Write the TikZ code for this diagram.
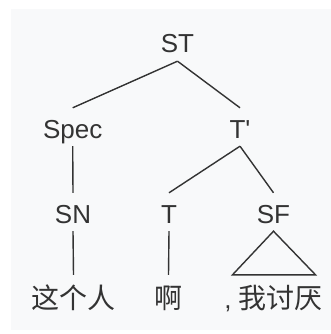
\documentclass[tikz,border=0pt]{standalone}
\usepackage{fontspec}
\setmainfont{Liberation Sans}[Ligatures=TeXOff]
\newfontfamily\cjk{Noto Sans CJK SC}
\definecolor{ink}{HTML}{333333}
\definecolor{bgc}{HTML}{F8F9FA}
\begin{document}
\begin{tikzpicture}[x=1pt,y=-1pt,
  lbl/.style={anchor=base, font=\fontsize{26}{26}\selectfont, text=ink,
    text height=25pt, text depth=3pt, inner ysep=5pt, inner xsep=0pt},
  word/.style={anchor=base, font=\fontsize{28}{28}\selectfont\cjk, text=ink,
    text height=33pt, text depth=0pt, inner ysep=0pt, inner xsep=0pt},
  edge/.style={draw=ink, line width=1.4pt}]
\useasboundingbox (0,0) rectangle (331,334);
\fill[bgc] (11,9) rectangle (331,330);
\node[lbl] (ST) at (177.5,53) {ST};
\node[lbl] (Spec) at (72.7,138) {Spec};
\node[lbl] (Tp) at (240,138) {T'};
\node[lbl] (SN) at (73,223) {SN};
\node[lbl] (T) at (169,223) {T};
\node[lbl] (SF) at (273.5,223) {SF};
\node[word] (W1) at (73.5,308) {这个人};
\node[word] (W2) at (168.5,308) {啊};
\node[word] (W3) at (273.5,308) {{\rmfamily\fontsize{26}{26}\selectfont, }我讨厌};
\draw[edge] (ST.south) -- (Spec.north);
\draw[edge] (ST.south) -- (Tp.north);
\draw[edge] (Spec.south) -- (SN.north);
\draw[edge] (Tp.south) -- (T.north);
\draw[edge] (Tp.south) -- (SF.north);
\draw[edge] (SN.south) -- (W1.north);
\draw[edge] (T.south) -- (W2.north);
\draw[edge, line join=miter] (SF.south) -- ([xshift=-41pt]W3.north) -- ([xshift=42pt]W3.north) -- cycle;
\end{tikzpicture}
\end{document}
